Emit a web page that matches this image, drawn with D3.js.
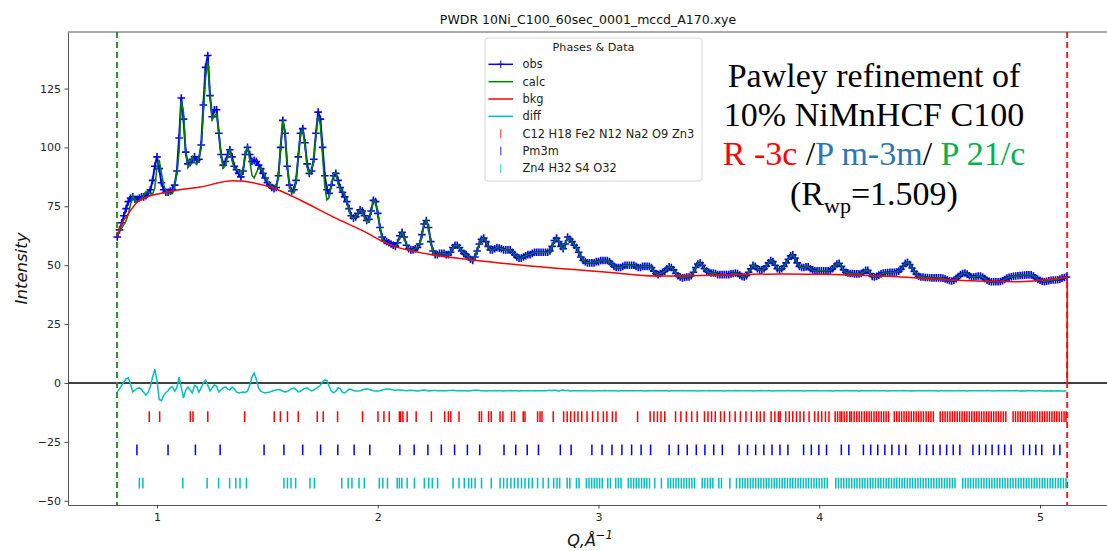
<!DOCTYPE html>
<html>
<head>
<meta charset="utf-8">
<script src="https://cdn.jsdelivr.net/npm/d3@7"></script>
<style>
  html, body { margin: 0; padding: 0; background: #fff; }
  svg { display: block; }
  text { white-space: pre; }
</style>
</head>
<body>
<svg id="chart" width="1107" height="551"></svg>
<script>
// ---- Pattern data: observed counts on a 0.01 Å⁻¹ grid starting at Q = 0.82 ----
const qStart = 0.82;
const qStep = 0.01;

const obs = [
  62, 65, 68, 71, 74, 77, 78.5, 79, 78, 78,
  78.5, 79, 79, 79.5, 80.5, 82, 86, 92, 96, 91,
  85, 82, 81, 81, 81.5, 82, 84, 90, 104, 121,
  112, 98, 93, 93.5, 95, 96, 94.5, 95, 101, 118,
  134, 139, 122, 113, 116, 116, 106, 97, 92.5, 94,
  97, 99, 96, 92, 90.5, 89, 87.5, 90, 97, 100,
  97, 94, 94.5, 94, 92.5, 91, 89, 87, 85, 84,
  83, 82.5, 83, 88, 100, 111.5, 106, 92, 84, 81.5,
  82, 86, 96, 106, 108, 102, 93, 89, 90, 95,
  106, 115, 112, 100, 88, 82, 80.5, 84, 88, 89,
  86, 83, 81, 79, 77, 74, 71, 70, 70.5, 72,
  73.5, 73, 71, 69, 69.5, 73, 77.5, 77, 72, 66,
  62, 60.5, 60, 59.5, 59, 58.5, 58, 59.5, 62.5, 64,
  62, 58.5, 57, 56.5, 56.5, 57, 57.5, 59, 63, 67.5,
  69, 66, 60, 56, 54.5, 54.5, 55, 55, 55, 54.5,
  54.5, 55.5, 57.5, 58.5, 58.5, 57.5, 56, 55, 54.5, 53.5,
  52.5, 52, 53.5, 56, 59, 61, 61.5, 60, 58, 56.5,
  56.5, 57, 57.5, 57.3, 57, 56.5, 56.5, 56.5, 56.5, 55.5,
  54.5, 53.5, 53, 53, 53.5, 54, 54.5, 54.5, 55, 55.5,
  55.5, 55.5, 55.5, 55.5, 55.5, 55.5, 56, 58, 60.5, 61.5,
  60, 58, 57, 59, 62, 61, 60, 58.5, 57.5, 55.5,
  53.5, 52, 51.5, 51, 51, 51, 51, 51.5, 51.5, 52,
  52, 52, 52, 51.5, 50.5, 49.5, 49, 49, 49, 49.5,
  50, 50, 50, 50, 50, 49.5, 49, 49, 49.5, 49.5,
  49.5, 49.5, 49, 47.5, 46.5, 46, 46.5, 47, 47.5, 48.5,
  49.3, 49, 48, 46.5, 45.5, 45, 44.6, 44.8, 45, 45,
  45.5, 47, 49, 50.5, 51, 50, 48.5, 47.5, 47, 46.7,
  46.7, 46.5, 46, 46, 46, 46, 46, 46, 46.3, 46.5,
  46.7, 46.5, 45.8, 45.2, 45, 45.5, 47, 48.5, 50, 49.5,
  48.5, 48, 48, 48.5, 49.5, 51, 52, 51.5, 50, 48.5,
  48, 48.5, 49.5, 51, 52.5, 54, 54.4, 53, 51, 49.5,
  49, 49, 49.3, 49.3, 48.5, 48, 47.6, 47.6, 47.6, 47.6,
  47.6, 47.6, 47.6, 47.8, 48.5, 49.5, 50.5, 50.8, 49.5, 48,
  47, 46.7, 46.5, 46.5, 46.3, 46.3, 46.3, 46.5, 47, 47.8,
  47.8, 46.5, 45.2, 45, 45.3, 45.8, 46.3, 46.7, 46.8, 46.9,
  47, 47, 47, 47.1, 47.5, 48.3, 49.5, 50.8, 51.2, 50.3,
  48.8, 47.3, 46.2, 45.3, 45, 45, 44.8, 44.8, 44.7, 44.6,
  44.6, 44.6, 44.6, 44.6, 44.5, 44.2, 43.8, 43.4, 43.3, 43.6,
  44.3, 45.2, 46, 46.5, 46.7, 46.2, 45.5, 45, 45, 45.2,
  45.4, 45.4, 45, 44.3, 43.6, 43.2, 43, 43, 43, 43,
  43.1, 43.4, 43.9, 44.5, 44.9, 45.1, 45.3, 45.4, 45.5, 45.6,
  45.7, 45.8, 45.9, 45.9, 45.9, 45.5, 44.6, 44, 43.6, 43.2,
  43, 43.2, 43.4, 43.6, 43.7, 43.7, 43.8, 44.1, 44.5, 44.8,
  45
];

// Difference curve (obs − calc), plotted with an offset of diffBase
const diffBase = -3.3;
const diff = [
  -3.8, -2.5, -1, 0.5, 1.8, 2.1, -0.5, -3.8, -3, -2.3,
  -2.1, -2.8, -4, -5.1, -4, -1.5, 2.5, 5.9, 1, -7,
  -7.5, -5.5, -4, -3.3, -2, -1.7, -3.5, -2, 2.5, -2,
  -6.4, -3, -1.7, -3, -4.2, -1, -1.5, -4, -2, 0,
  1.3, -1, -3.4, -2, -0.8, -1.5, -3.8, -3, -2, -1.7,
  -2.5, -3, -1.7, -2.5, -3.8, -4.2, -4, -3.8, -4, -3.5,
  -1, 2.5, 4.2, 1.5, -2.1, -3.5, -4, -4.2, -4, -3.8,
  -3.5, -3.2, -3, -2.8, -3, -3.5, -3.8, -3.6, -3, -2.4,
  -2.2, -2.8, -3.8, -3.5, -2.8, -2.3, -2.1, -2.8, -3.4, -3,
  -2.4, -1.7, -1, 0.5, 1.3, 1, -1.5, -3.5, -4.2, -3.5,
  -2, -2.5, -4, -4.2, -3.5, -2.6, -2.8, -3.2, -3.4, -3.4,
  -3.3, -3, -2.7, -2.6, -2.7, -3, -3.3, -3.4, -3.4, -3.3,
  -3, -2.8, -2.6, -2.6, -2.8, -3, -3.1, -3, -3, -3.1,
  -3.2, -3.3, -3.2, -3.1, -3.2, -3.3, -3.4, -3.3, -3.1, -3.0,
  -3.2, -3.4, -3.3, -3.2, -3.2, -3.3, -3.3, -3.2, -3.3, -3.3,
  -3.2, -3.2, -3.1, -3.2, -3.3, -3.3, -3.2, -3.3, -3.3, -3.4,
  -3.3, -3.2, -3.1, -3.1, -3.2, -3.3, -3.3, -3.4, -3.3, -3.3,
  -3.3, -3.2, -3.3, -3.3, -3.3, -3.4, -3.3, -3.3, -3.2, -3.3,
  -3.3, -3.3, -3.4, -3.3, -3.3, -3.3, -3.2, -3.3, -3.3, -3.3,
  -3.3, -3.3, -3.3, -3.3, -3.3, -3.2, -3.1, -3.3, -3.0, -3.2,
  -3.5, -3.1, -3.0, -3.3, -3.1, -3.4, -3.3, -3.3, -3.3, -3.3,
  -3.3, -3.3, -3.2, -3.3, -3.3, -3.3, -3.4, -3.3, -3.3, -3.3,
  -3.3, -3.2, -3.3, -3.3, -3.3, -3.3, -3.3, -3.4, -3.3, -3.3,
  -3.3, -3.3, -3.3, -3.2, -3.3, -3.3, -3.3, -3.3, -3.3, -3.4,
  -3.3, -3.3, -3.3, -3.3, -3.2, -3.3, -3.3, -3.3, -3.3, -3.3,
  -3.4, -3.3, -3.3, -3.3, -3.3, -3.3, -3.2, -3.3, -3.3, -3.3,
  -3.3, -3.3, -3.3, -3.4, -3.3, -3.3, -3.3, -3.3, -3.2, -3.3,
  -3.3, -3.3, -3.3, -3.3, -3.3, -3.4, -3.3, -3.3, -3.3, -3.3,
  -3.2, -3.3, -3.3, -3.3, -3.3, -3.3, -3.3, -3.3, -3.4, -3.3,
  -3.3, -3.3, -3.2, -3.3, -3.3, -3.3, -3.3, -3.4, -3.3, -3.3,
  -3.3, -3.3, -3.3, -3.3, -3.2, -3.3, -3.3, -3.3, -3.3, -3.3,
  -3.3, -3.4, -3.3, -3.3, -3.3, -3.3, -3.3, -3.2, -3.3, -3.3,
  -3.3, -3.3, -3.3, -3.3, -3.4, -3.3, -3.3, -3.3, -3.3, -3.3,
  -3.2, -3.3, -3.3, -3.3, -3.3, -3.3, -3.4, -3.3, -3.3, -3.3,
  -3.3, -3.3, -3.3, -3.2, -3.3, -3.3, -3.3, -3.3, -3.3, -3.4,
  -3.3, -3.3, -3.3, -3.3, -3.3, -3.3, -3.2, -3.3, -3.3, -3.3,
  -3.4, -3.3, -3.3, -3.3, -3.3, -3.3, -3.3, -3.3, -3.2, -3.3,
  -3.3, -3.3, -3.4, -3.3, -3.3, -3.3, -3.3, -3.3, -3.3, -3.3,
  -3.3, -3.2, -3.3, -3.3, -3.3, -3.4, -3.3, -3.3, -3.3, -3.3,
  -3.3, -3.3, -3.3, -3.3, -3.2, -3.3, -3.3, -3.4, -3.3, -3.3,
  -3.3, -3.3, -3.3, -3.3, -3.3, -3.3, -3.3, -3.2, -3.3, -3.4,
  -3.3, -3.4, -3.3, -3.3, -3.3, -3.3, -3.4, -3.3, -3.3, -3.4,
  -3.4, -3.3, -3.4, -3.3, -3.4, -3.4, -3.3, -3.4, -3.4, -3.4,
  -3.4
];

// Refined background
const bkgQ = [0.819, 0.832, 0.864, 0.923, 1.045, 1.195, 1.344, 1.526, 1.648, 1.797,
              1.951, 2.024, 2.069, 2.178, 2.432, 2.735, 3.039, 3.266, 3.55, 3.836,
              4.29, 4.593, 4.897, 5.05, 5.123];
const bkgI = [62, 66, 71, 77.7, 81, 83.2, 85.8, 82.8, 77.7, 70.5,
              63.7, 60, 58.2, 55.6, 52.2, 49.3, 47, 45.4, 45.8, 46.3,
              45.4, 43.7, 43, 44, 45];

// Reflection positions for each phase (Å⁻¹)
const ticksR3c = [
  0.965, 1.012, 1.151, 1.163, 1.230, 1.397, 1.531, 1.559, 1.591, 1.640,
  1.726, 1.753, 1.818, 1.931, 2.001, 2.028, 2.052, 2.098, 2.104, 2.114,
  2.133, 2.174, 2.243, 2.303, 2.320, 2.331, 2.368, 2.460, 2.470, 2.502,
  2.514, 2.554, 2.567, 2.606, 2.619, 2.659, 2.667, 2.724, 2.735, 2.744,
  2.795, 2.842, 2.858, 2.874, 2.891, 2.907, 2.924, 2.948, 2.973, 2.997,
  3.022, 3.038, 3.063, 3.079, 3.177, 3.234, 3.251, 3.267, 3.283, 3.300,
  3.349, 3.373, 3.398, 3.422, 3.447, 3.480, 3.496, 3.512, 3.529, 3.553,
  3.570, 3.594, 3.619, 3.643, 3.668, 3.692, 3.717, 3.733, 3.750, 3.782,
  3.799, 3.815, 3.823, 3.848, 3.864, 3.880, 3.897, 3.913, 3.930, 3.954,
  3.979, 3.995, 4.011, 4.028, 4.044, 4.072, 4.083, 4.094, 4.102, 4.113,
  4.125, 4.138, 4.146, 4.158, 4.170, 4.181, 4.192, 4.204, 4.215, 4.226,
  4.236, 4.248, 4.259, 4.270, 4.281, 4.292, 4.303, 4.314, 4.340, 4.351,
  4.362, 4.373, 4.384, 4.395, 4.406, 4.417, 4.428, 4.439, 4.450, 4.461,
  4.472, 4.484, 4.495, 4.506, 4.517, 4.548, 4.559, 4.570, 4.581, 4.592,
  4.603, 4.614, 4.625, 4.636, 4.647, 4.658, 4.669, 4.680, 4.691, 4.702,
  4.713, 4.724, 4.735, 4.746, 4.757, 4.768, 4.779, 4.790, 4.801, 4.812,
  4.823, 4.834, 4.845, 4.878, 4.889, 4.900, 4.911, 4.922, 4.933, 4.944,
  4.955, 4.966, 4.977, 4.988, 4.999, 5.010, 5.021, 5.032, 5.043, 5.054,
  5.065, 5.076, 5.087, 5.098, 5.109, 5.118
];
const ticksPm3m = [
  0.909, 1.050, 1.174, 1.286, 1.485, 1.575, 1.660, 1.741, 1.819, 1.893,
  1.964, 2.100, 2.165, 2.227, 2.288, 2.348, 2.406, 2.462, 2.572, 2.625,
  2.677, 2.728, 2.827, 2.876, 2.970, 3.016, 3.061, 3.106, 3.150, 3.193,
  3.236, 3.320, 3.362, 3.402, 3.443, 3.482, 3.522, 3.561, 3.637, 3.675,
  3.712, 3.749, 3.786, 3.822, 3.858, 3.929, 3.964, 3.998, 4.033, 4.100,
  4.134, 4.200, 4.233, 4.265, 4.297, 4.329, 4.361, 4.392, 4.455, 4.486,
  4.516, 4.547, 4.577, 4.607, 4.637, 4.696, 4.725, 4.754, 4.783, 4.812,
  4.840, 4.869, 4.925, 4.953, 4.981, 5.008, 5.063, 5.090
];
const ticksP21c = [
  0.920, 0.936, 1.117, 1.227, 1.279, 1.329, 1.357, 1.376, 1.405, 1.575,
  1.591, 1.607, 1.628, 1.693, 1.713, 1.837, 1.866, 1.883, 1.915, 1.939,
  2.007, 2.023, 2.044, 2.088, 2.098, 2.109, 2.133, 2.166, 2.211, 2.231,
  2.247, 2.271, 2.341, 2.368, 2.392, 2.412, 2.425, 2.441, 2.470, 2.514,
  2.554, 2.570, 2.586, 2.603, 2.619, 2.635, 2.651, 2.667, 2.684, 2.700,
  2.724, 2.749, 2.773, 2.797, 2.812, 2.824, 2.858, 2.870, 2.900, 2.912,
  2.945, 2.957, 2.969, 2.981, 2.993, 3.005, 3.017, 3.042, 3.054, 3.078,
  3.090, 3.102, 3.135, 3.147, 3.159, 3.171, 3.183, 3.195, 3.207, 3.219,
  3.231, 3.255, 3.285, 3.315, 3.327, 3.339, 3.351, 3.363, 3.375, 3.387,
  3.399, 3.411, 3.423, 3.435, 3.470, 3.482, 3.494, 3.506, 3.518, 3.545,
  3.557, 3.595, 3.625, 3.640, 3.652, 3.664, 3.676, 3.688, 3.700, 3.712,
  3.724, 3.736, 3.748, 3.760, 3.772, 3.784, 3.796, 3.808, 3.820, 3.832,
  3.844, 3.856, 3.868, 3.880, 3.892, 3.904, 3.916, 3.928, 3.940, 3.952,
  3.964, 3.976, 3.988, 4.000, 4.012, 4.024, 4.036, 4.075, 4.087, 4.099,
  4.111, 4.123, 4.135, 4.147, 4.159, 4.171, 4.183, 4.195, 4.207, 4.219,
  4.231, 4.243, 4.255, 4.267, 4.279, 4.291, 4.303, 4.315, 4.327, 4.339,
  4.351, 4.363, 4.375, 4.387, 4.399, 4.411, 4.423, 4.435, 4.447, 4.459,
  4.471, 4.483, 4.495, 4.507, 4.519, 4.531, 4.543, 4.555, 4.567, 4.579,
  4.591, 4.603, 4.615, 4.650, 4.662, 4.674, 4.686, 4.698, 4.710, 4.722,
  4.734, 4.746, 4.758, 4.770, 4.782, 4.794, 4.806, 4.818, 4.830, 4.842,
  4.854, 4.866, 4.878, 4.890, 4.902, 4.914, 4.926, 4.938, 4.950, 4.962,
  4.974, 4.986, 4.998, 5.010, 5.022, 5.034, 5.046, 5.058, 5.070, 5.082,
  5.094, 5.106, 5.118
];
const tickRowLevels = [-14.3, -28.4, -42.5];

// Fit range limits (Å⁻¹)
const qLimits = [0.819, 5.123];

// Axis ticks and view limits
const xTicks = [1, 2, 3, 4, 5];
const yTicks = [-50, -25, 0, 25, 50, 75, 100, 125];
const xView = [0.5968, 5.308];
const yView = [-51.8, 149];

const titleText = "PWDR 10Ni_C100_60sec_0001_mccd_A170.xye";
const legendTitle = "Phases & Data";
const curveNames = ["obs", "calc", "bkg", "diff"];
const phaseNames = ["C12 H18 Fe2 N12 Na2 O9 Zn3", "Pm3m", "Zn4 H32 S4 O32"];

// ---- Layout ----
const plot = { left: 68, right: 1108, top: 32, bottom: 505 };
const colors = { obs: "#0000ff", calc: "#008000", bkg: "#ff0000", diff: "#00bfbf" };
const phaseColors = ["#ff0000", "#0000ff", "#00bfbf"];
const sans = "DejaVu Sans, sans-serif";

const svg = d3.select("#chart");
const x = d3.scaleLinear().domain(xView).range([plot.left, plot.right]);
const y = d3.scaleLinear().domain(yView).range([plot.bottom, plot.top]);

const q = obs.map((_, i) => +(qStart + i * qStep).toFixed(3));
const calc = obs.map((v, i) => v - (diff[i] - diffBase));

svg.append("clipPath").attr("id", "plotclip")
  .append("rect").attr("x", plot.left).attr("y", plot.top)
  .attr("width", plot.right - plot.left).attr("height", plot.bottom - plot.top);

const g = svg.append("g").attr("clip-path", "url(#plotclip)");

// zero line
g.append("line")
  .attr("x1", plot.left).attr("x2", plot.right)
  .attr("y1", y(0)).attr("y2", y(0))
  .attr("stroke", "#000").attr("stroke-width", 1.5);

// fit-range limits
g.append("line")
  .attr("x1", x(qLimits[0])).attr("x2", x(qLimits[0]))
  .attr("y1", plot.top).attr("y2", plot.bottom)
  .attr("stroke", "#2f8f2f").attr("stroke-width", 2).attr("stroke-dasharray", "6,4");
g.append("line")
  .attr("x1", x(qLimits[1])).attr("x2", x(qLimits[1]))
  .attr("y1", plot.top).attr("y2", plot.bottom)
  .attr("stroke", "#e02a2a").attr("stroke-width", 2).attr("stroke-dasharray", "6,4");

// observed: line plus '+' markers
const lineXY = d3.line().x(d => x(d[0])).y(d => y(d[1]));
g.append("path")
  .attr("d", lineXY(q.map((qq, i) => [qq, obs[i]])))
  .attr("fill", "none").attr("stroke", colors.obs).attr("stroke-width", 2);

const m = 3.8;
let markerPath = "";
q.forEach((qq, i) => {
  const px = x(qq), py = y(obs[i]);
  markerPath += `M${px - m},${py}H${px + m}M${px},${py - m}V${py + m}`;
});
g.append("path").attr("d", markerPath)
  .attr("fill", "none").attr("stroke", colors.obs).attr("stroke-width", 1.6);

// calculated
g.append("path")
  .attr("d", lineXY(q.map((qq, i) => [qq, calc[i]])))
  .attr("fill", "none").attr("stroke", colors.calc).attr("stroke-width", 1.5);

// background
const bkgLine = d3.line().x(d => x(d[0])).y(d => y(d[1])).curve(d3.curveMonotoneX);
g.append("path")
  .attr("d", bkgLine(bkgQ.map((qq, i) => [qq, bkgI[i]])))
  .attr("fill", "none").attr("stroke", colors.bkg).attr("stroke-width", 1.5);
const lastB = bkgQ.length - 1;
g.append("path")
  .attr("d", lineXY([[bkgQ[lastB], bkgI[lastB]], [bkgQ[lastB], 0]]))
  .attr("fill", "none").attr("stroke", colors.bkg).attr("stroke-width", 1.5);

// difference
g.append("path")
  .attr("d", lineXY(q.map((qq, i) => [qq, diff[i]])))
  .attr("fill", "none").attr("stroke", colors.diff).attr("stroke-width", 1.5);

// reflection tick rows
const tickHalf = 5.3;
[ticksR3c, ticksPm3m, ticksP21c].forEach((arr, k) => {
  const cy = y(tickRowLevels[k]);
  const d = arr.map(t => `M${x(t)},${cy - tickHalf}V${cy + tickHalf}`).join("");
  g.append("path").attr("d", d)
    .attr("fill", "none").attr("stroke", phaseColors[k]).attr("stroke-width", 1.5);
});

// ---- Axes ----
const axisColor = "#333";
const yAxis = svg.append("g")
  .attr("transform", `translate(${plot.left},0)`)
  .call(d3.axisLeft(y).tickValues(yTicks).tickSize(3.5).tickPadding(3.5).tickSizeOuter(0));
const xAxis = svg.append("g")
  .attr("transform", `translate(0,${plot.bottom})`)
  .call(d3.axisBottom(x).tickValues(xTicks).tickFormat(d3.format("d"))
    .tickSize(3.5).tickPadding(5).tickSizeOuter(0));
[yAxis, xAxis].forEach(a => {
  a.selectAll("path.domain").attr("stroke", "#444").attr("stroke-width", 0.9);
  a.selectAll(".tick line").attr("stroke", axisColor).attr("stroke-width", 0.9);
  a.selectAll(".tick text").attr("fill", "#262626")
    .style("font-family", sans).style("font-size", "11px");
});
// top spine
svg.append("line")
  .attr("x1", plot.left).attr("x2", plot.right)
  .attr("y1", plot.top).attr("y2", plot.top)
  .attr("stroke", "#444").attr("stroke-width", 0.9);

// title
svg.append("text")
  .attr("x", (plot.left + plot.right) / 2).attr("y", 24)
  .attr("text-anchor", "middle")
  .style("font-family", sans).style("font-size", "12.5px").attr("fill", "#111")
  .text(titleText);

// axis labels
svg.append("text")
  .attr("transform", `translate(27,${(plot.top + plot.bottom) / 2}) rotate(-90)`)
  .attr("text-anchor", "middle")
  .style("font-family", sans).style("font-size", "16.5px").style("font-style", "italic")
  .attr("fill", "#111")
  .text("Intensity");

const xl = svg.append("text")
  .attr("x", 590).attr("y", 546)
  .attr("text-anchor", "middle")
  .style("font-family", sans).style("font-size", "16px").style("font-style", "italic")
  .attr("fill", "#111");
xl.append("tspan").text("Q,Å");
xl.append("tspan").attr("dy", -7).style("font-size", "11.5px").text("−1");

// ---- Legend ----
const lg = svg.append("g").attr("transform", "translate(485,38)");
lg.append("rect")
  .attr("width", 217).attr("height", 143).attr("rx", 3).attr("ry", 3)
  .attr("fill", "#fff").attr("fill-opacity", 0.9)
  .attr("stroke", "#d6d6d6").attr("stroke-width", 1);
lg.append("text")
  .attr("x", 108.5).attr("y", 12.5)
  .attr("text-anchor", "middle")
  .style("font-family", sans).style("font-size", "11.2px").attr("fill", "#222")
  .text(legendTitle);
const rowY = i => 26.3 + i * 17.35;
curveNames.forEach((name, i) => {
  const cy = rowY(i);
  lg.append("line").attr("x1", 3.5).attr("x2", 28).attr("y1", cy).attr("y2", cy)
    .attr("stroke", colors[name]).attr("stroke-width", 1.5);
  if (name === "obs") {
    lg.append("path").attr("d", `M${15.75 - m},${cy}H${15.75 + m}M15.75,${cy - m}V${cy + m}`)
      .attr("stroke", colors.obs).attr("stroke-width", 1);
  }
  lg.append("text").attr("x", 37.5).attr("y", cy + 4)
    .style("font-family", sans).style("font-size", "11.4px").attr("fill", "#222")
    .text(name);
});
phaseNames.forEach((name, k) => {
  const cy = rowY(4 + k);
  lg.append("line").attr("x1", 15.75).attr("x2", 15.75).attr("y1", cy - 4.5).attr("y2", cy + 4.5)
    .attr("stroke", phaseColors[k]).attr("stroke-width", 1.2).attr("stroke-opacity", 0.7);
  lg.append("text").attr("x", 37.5).attr("y", cy + 4)
    .style("font-family", sans).style("font-size", "11.4px").attr("fill", "#222")
    .text(name);
});

// ---- Annotation ----
const serif = "Liberation Serif, Times New Roman, serif";
const ann = svg.append("g")
  .style("font-family", serif).style("font-size", "34px");
const annX = 874;
ann.append("text").attr("x", annX).attr("y", 87).attr("text-anchor", "middle")
  .attr("fill", "#000").text("Pawley refinement of");
ann.append("text").attr("x", annX).attr("y", 126).attr("text-anchor", "middle")
  .attr("fill", "#000").text("10% NiMnHCF C100");
const sg = ann.append("text").attr("x", annX).attr("y", 165).attr("text-anchor", "middle");
sg.append("tspan").attr("fill", "#ff0000").text("R -3c ");
sg.append("tspan").attr("fill", "#000").text("/");
sg.append("tspan").attr("fill", "#2e75b6").text("P m-3m");
sg.append("tspan").attr("fill", "#000").text("/ ");
sg.append("tspan").attr("fill", "#00b050").text("P 21/c");
const rw = ann.append("text").attr("x", annX).attr("y", 205).attr("text-anchor", "middle").attr("fill", "#000");
rw.append("tspan").text("(R");
rw.append("tspan").attr("dy", 8).style("font-size", "22px").text("wp");
rw.append("tspan").attr("dy", -8).text("=1.509)");
</script>
</body>
</html>
